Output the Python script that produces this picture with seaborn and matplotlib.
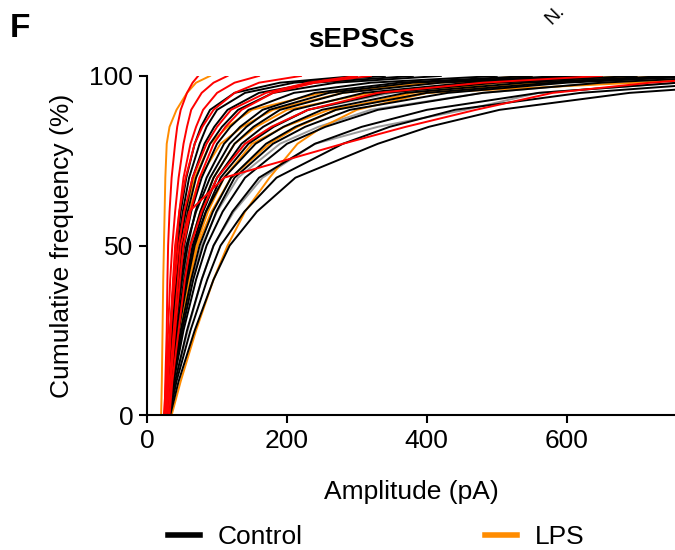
import numpy as np
import pandas as pd
import matplotlib.pyplot as plt
from matplotlib.lines import Line2D
import seaborn as sns

levels = [0, 10, 25, 40, 50, 60, 70, 80, 85, 90, 95, 98, 100]

# amplitude (pA) reached at each level, one row per cell
control_cells = [
    [33, 45, 68, 95, 118, 157, 212, 330, 403, 504, 690, 900, 1200],
    [32, 42, 62, 86, 105, 139, 185, 280, 347, 440, 620, 820, 1000],
    [30, 40, 57, 78, 95, 122, 160, 240, 307, 400, 560, 760, 950],
    [30, 38, 52, 70, 85, 108, 140, 200, 255, 330, 480, 650, 850],
    [29, 36, 48, 63, 75, 94, 120, 170, 212, 270, 400, 580, 780],
    [28, 34, 45, 58, 68, 84, 105, 145, 181, 230, 340, 500, 700],
    [28, 33, 42, 53, 62, 76, 95, 125, 152, 190, 280, 420, 620],
    [27, 32, 40, 50, 58, 69, 85, 110, 133, 165, 240, 360, 550],
    [27, 31, 38, 46, 53, 63, 78, 100, 119, 145, 210, 320, 500],
    [26, 30, 36, 44, 50, 58, 70, 90, 107, 130, 180, 270, 420],
    [26, 30, 35, 42, 47, 55, 65, 82, 96, 115, 160, 240, 380],
    [25, 29, 34, 39, 44, 51, 60, 75, 85, 100, 140, 210, 340],
    [25, 28, 33, 38, 42, 48, 56, 68, 77, 90, 125, 190, 300],
    [30, 35, 45, 56, 65, 80, 100, 135, 166, 210, 310, 460, 650],
    [31, 37, 50, 66, 80, 99, 125, 180, 226, 290, 430, 600, 800],
    [29, 34, 44, 56, 66, 84, 110, 155, 195, 250, 370, 540, 750],
    [27, 31, 39, 48, 56, 70, 90, 118, 142, 175, 260, 380, 600],
]
lps_cells = [
    [20, 21, 22, 23, 24, 25, 26, 28, 32, 42, 57, 70, 90],
    [30, 36, 48, 61, 72, 92, 120, 175, 215, 270, 380, 504, 650],
    [30, 36, 48, 60, 70, 87, 110, 150, 196, 260, 400, 560, 750],
    [35, 48, 70, 95, 115, 140, 175, 215, 251, 300, 400, 700, 850],
    [27, 31, 37, 44, 50, 60, 75, 105, 136, 180, 280, 400, 550],
    [30, 35, 44, 54, 62, 76, 95, 125, 156, 200, 320, 500, 700],
    [26, 30, 36, 41, 46, 55, 68, 90, 115, 150, 250, 420, 650],
]
red_cells = [
    [25, 26, 28, 29, 30, 32, 35, 40, 43, 48, 57, 65, 73],
    [24, 27, 30, 33, 36, 40, 45, 52, 57, 63, 78, 95, 115],
    [27, 30, 34, 38, 42, 46, 52, 62, 70, 80, 100, 125, 160],
    [26, 29, 33, 37, 40, 46, 55, 68, 79, 95, 125, 160, 220],
    [28, 32, 38, 44, 48, 60, 110, 280, 370, 470, 580, 720, 850],
    [30, 34, 40, 47, 52, 62, 75, 95, 112, 135, 180, 240, 320],
    [25, 28, 33, 40, 45, 53, 65, 85, 100, 120, 170, 230, 300],
    [32, 36, 45, 54, 62, 78, 100, 140, 178, 230, 330, 480, 650],
]
gray_cells = [
    [30, 40, 58, 78, 95, 124, 165, 240, 330, 455, 560, 760, 900],
    [28, 33, 42, 52, 60, 77, 100, 140, 178, 230, 350, 500, 700],
    [32, 38, 50, 65, 78, 100, 130, 190, 245, 320, 480, 650, 800],
]

colors = {'gray': '#9a9a9a', 'LPS': '#ff8c00', 'Control': 'black', 'red': '#ff0000'}

# long table for seaborn
rows = []
for group, cells in [('gray', gray_cells), ('LPS', lps_cells),
                     ('Control', control_cells), ('red', red_cells)]:
    for i, amps in enumerate(cells):
        for a, p in zip(amps, levels):
            rows.append({'group': group, 'cell': f'{group}{i}', 'amp': a, 'freq': p})
df = pd.DataFrame(rows)

plt.rcParams['font.family'] = ['Liberation Sans', 'DejaVu Sans']
fig = plt.figure(figsize=(6.75, 5.5), dpi=100)
ax = fig.add_axes([0.218, 0.245, 0.782, 0.617])

for group in ['gray', 'LPS', 'Control', 'red']:
    sns.lineplot(data=df[df['group'] == group], x='amp', y='freq', units='cell',
                 estimator=None, color=colors[group], lw=1.4, sort=False,
                 legend=False, ax=ax)

ax.set_xlim(0, 755)
ax.set_ylim(0, 100)
ax.set_xticks([0, 200, 400, 600])
ax.set_yticks([0, 50, 100])
ax.tick_params(labelsize=19, width=1.5, length=6, direction='out', pad=4)
for s in ['top', 'right']:
    ax.spines[s].set_visible(False)
for s in ['left', 'bottom']:
    ax.spines[s].set_linewidth(1.5)
ax.set_xlabel('Amplitude (pA)', fontsize=19, labelpad=19)
ax.set_ylabel('Cumulative frequency (%)', fontsize=19, labelpad=11)

fig.text(0.536, 0.927, 'sEPSCs', fontsize=20, fontweight='bold', ha='center', va='center')
fig.text(0.015, 0.949, 'F', fontsize=24, fontweight='bold', ha='left', va='center')
fig.text(0.822, 0.972, 'N.', fontsize=14, rotation=45, ha='center', va='center')

handles = [Line2D([], [], color='black', lw=4), Line2D([], [], color='#ff8c00', lw=4)]
fig.legend(handles, ['Control', 'LPS'], loc='center left', bbox_to_anchor=(0.214, 0.024),
           ncol=2, frameon=False, fontsize=19, handlelength=1.2, handletextpad=0.68,
           columnspacing=6.9)

fig.savefig('out.png', dpi=100)
